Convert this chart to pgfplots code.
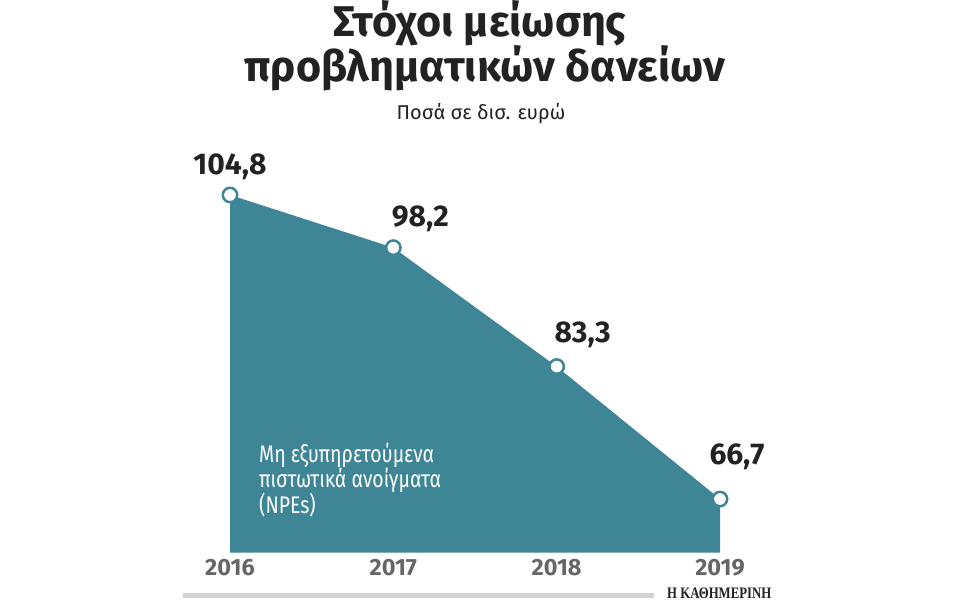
\documentclass[border=0pt]{standalone}
\usepackage{pgfplots}
\pgfplotsset{compat=1.18}
\usepackage{pgfplotstable}
\usepackage{fontspec}
\setmainfont{Fira Sans}
\newfontfamily\condfont{Fira Sans}[FakeStretch=0.81]
\newfontfamily\sercond{Liberation Serif}[FakeStretch=0.8]
\definecolor{npeteal}{HTML}{3E8596}
\definecolor{txtdark}{HTML}{222222}
\definecolor{yeargray}{HTML}{666666}
\definecolor{bargray}{HTML}{D2D2D2}

\pgfplotstableread{
x  y      dx   dy   lab
0  104.8  0    28   {104,8}
1  98.2   27   29   {98,2}
2  83.3   26   32   {83,3}
3  66.7   17   42   {66,7}
}\npedata

\begin{document}
\begin{tikzpicture}
\path[use as bounding box] (0pt,0pt) rectangle (960pt,600pt);

\node[font=\bfseries\fontsize{43}{48}\selectfont, text=txtdark, anchor=base, inner sep=0] at (480pt,563pt) {Στόχοι μείωσης};
\node[font=\bfseries\fontsize{43}{48}\selectfont, text=txtdark, anchor=base, inner sep=0] at (485pt,518pt) {προβληματικών δανείων};
\node[font=\fontsize{20}{22}\selectfont, text=txtdark, anchor=base, inner sep=0] at (481pt,480pt) {Ποσά σε δισ. ευρώ};

\begin{axis}[
  at={(230pt,47.5pt)}, anchor=south west,
  scale only axis, width=490pt, height=399pt,
  xmin=0, xmax=3, ymin=60, ymax=110,
  clip=false,
  axis line style={draw=none},
  major tick length=0pt,
  ytick=\empty,
  xtick={0,1,2,3},
  xticklabels={2016,2017,2018,2019},
  xticklabel style={font=\bfseries\fontsize{23.5}{26}\selectfont, text=yeargray, anchor=base, yshift=-22.5pt},
]
\addplot[fill=npeteal, draw=none] coordinates {(0,60) (0,104.8) (1,98.2) (2,83.3) (3,66.7) (3,60)} -- cycle;
\addplot[only marks, mark=*, mark size=7.2pt,
  mark options={fill=white, draw=npeteal, line width=2.5pt},
  point meta=explicit symbolic,
  visualization depends on={\thisrow{dx} \as \labdx},
  visualization depends on={\thisrow{dy} \as \labdy},
  nodes near coords,
  every node near coord/.append style={anchor=center, xshift=\labdx pt, yshift=\labdy pt,
    font=\bfseries\fontsize{30}{32}\selectfont, text=txtdark, inner sep=0},
] table[x=x, y=y, meta=lab] {\npedata};
\end{axis}

\node[font=\condfont\fontsize{24}{25.5}\selectfont, text=white, anchor=base west, align=left, inner sep=0] at (259pt,87pt) {Μη εξυπηρετούμενα\\πιστωτικά ανοίγματα\\(NPEs)};

\draw[line width=5.5pt, draw=bargray] (183pt,4.5pt) -- (654pt,4.5pt);
\node[font=\sercond\bfseries\fontsize{16}{18}\selectfont, text=txtdark, anchor=base west, inner sep=0] at (667pt,2pt) {Η ΚΑΘΗΜΕΡΙΝΗ};
\end{tikzpicture}
\end{document}
